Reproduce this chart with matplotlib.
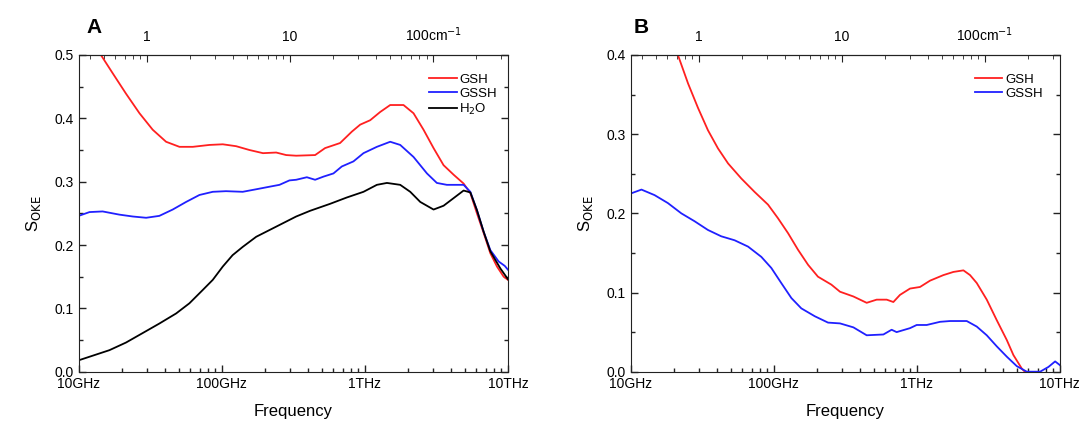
import numpy as np
import matplotlib.pyplot as plt
from matplotlib.ticker import FixedLocator, LogLocator, MultipleLocator, NullFormatter

plt.rcParams["font.family"] = ["Liberation Sans", "DejaVu Sans"]

# ── Panel A (frequency in GHz) ─────────────────────────────────────────────
a_gsh_f = [14.3, 17.3, 21.4, 26.6, 32.9, 40.8, 50.6, 62.7, 82, 101.6, 126, 156,
           194, 240, 282, 331, 449, 527, 671, 811, 927, 1089, 1279, 1503, 1862,
           2188, 2570, 3020, 3548, 4169, 4898, 5458, 6070, 6761, 7530, 8380, 9330, 10000]
a_gsh_s = [0.500, 0.471, 0.439, 0.408, 0.382, 0.363, 0.355, 0.355, 0.358, 0.359,
           0.356, 0.350, 0.345, 0.346, 0.342, 0.341, 0.342, 0.353, 0.361, 0.379,
           0.390, 0.397, 0.410, 0.421, 0.421, 0.408, 0.382, 0.353, 0.326, 0.311,
           0.297, 0.282, 0.250, 0.219, 0.187, 0.166, 0.150, 0.145]

a_gssh_f = [10, 11.9, 14.7, 19.2, 23.9, 29.6, 36.6, 45.4, 56.3, 69.8, 86.5, 107,
            140, 174, 215, 253, 297, 331, 393, 449, 514, 603, 690, 832, 978, 1213,
            1503, 1766, 2188, 2716, 3184, 3741, 4898, 5458, 6070, 6761, 7530, 8610,
            9500, 10000]
a_gssh_s = [0.246, 0.252, 0.253, 0.248, 0.245, 0.243, 0.246, 0.256, 0.268, 0.279,
            0.284, 0.285, 0.284, 0.288, 0.292, 0.295, 0.302, 0.303, 0.307, 0.303,
            0.308, 0.313, 0.324, 0.332, 0.345, 0.355, 0.363, 0.358, 0.339, 0.313,
            0.298, 0.295, 0.295, 0.284, 0.255, 0.221, 0.192, 0.174, 0.167, 0.161]

a_h2o_f = [10, 16.4, 21.4, 28, 36.6, 48, 59.4, 73.6, 86.5, 101.6, 119, 140, 174,
           240, 331, 414, 571, 747, 978, 1213, 1426, 1766, 2075, 2438, 3020, 3548,
           4169, 4898, 5458, 6070, 6761, 7530, 8850, 10000]
a_h2o_s = [0.018, 0.034, 0.046, 0.061, 0.076, 0.092, 0.108, 0.129, 0.145, 0.166,
           0.184, 0.197, 0.213, 0.229, 0.245, 0.254, 0.265, 0.275, 0.284, 0.295,
           0.298, 0.295, 0.284, 0.268, 0.256, 0.262, 0.274, 0.286, 0.283, 0.255,
           0.221, 0.190, 0.163, 0.146]

# ── Panel B ────────────────────────────────────────────────────────────────
b_gsh_f = [21.4, 25.2, 29.6, 34.7, 40.8, 48, 59.4, 73.6, 91.3, 107, 126, 148, 174,
           204, 253, 291, 361, 447, 525, 617, 687, 764, 898, 1055, 1240, 1537,
           1806, 2122, 2361, 2630, 3090, 3631, 4266, 4746, 5430, 5700]
b_gsh_s = [0.400, 0.364, 0.333, 0.305, 0.282, 0.263, 0.244, 0.227, 0.211, 0.194,
           0.175, 0.154, 0.135, 0.120, 0.110, 0.101, 0.095, 0.087, 0.091, 0.091,
           0.088, 0.097, 0.105, 0.107, 0.115, 0.122, 0.126, 0.128, 0.122, 0.112,
           0.091, 0.065, 0.040, 0.021, 0.004, 0.0]

b_gssh_f = [10, 11.9, 14.7, 18.2, 22.6, 28, 34.7, 43, 53.3, 66.2, 82, 96.3, 113,
            133, 156, 194, 240, 291, 361, 447, 585, 668, 724, 898, 1000, 1175, 1456,
            1711, 2239, 2630, 3090, 3631, 4266, 5012, 5890, 7290, 8340, 9290, 10000]
b_gssh_s = [0.225, 0.230, 0.223, 0.213, 0.200, 0.190, 0.179, 0.171, 0.166, 0.158,
            0.145, 0.131, 0.112, 0.093, 0.080, 0.070, 0.062, 0.061, 0.056, 0.046,
            0.047, 0.053, 0.050, 0.055, 0.059, 0.059, 0.063, 0.064, 0.064, 0.057,
            0.046, 0.032, 0.019, 0.007, 0.0, 0.0, 0.006, 0.013, 0.0085]

x_ticks = [10, 100, 1000, 10000]
x_labels = ["10GHz", "100GHz", "1THz", "10THz"]
top_ticks = [1, 10, 100]
top_labels = ["1", "10", "100cm$^{-1}$"]
GHZ_PER_CM = 29.9792458

RED = "#ff2020"
BLUE = "#2020ff"


def style_axes(ax, ymax, letter, letter_x, leg_x):
    ax.set_xscale("log")
    ax.set_xlim(10, 10000)
    ax.set_ylim(0, ymax)
    ax.xaxis.set_major_locator(FixedLocator(x_ticks))
    ax.set_xticklabels(x_labels)
    ax.xaxis.set_minor_locator(LogLocator(base=10, subs=np.arange(2, 10), numticks=20))
    ax.xaxis.set_minor_formatter(NullFormatter())
    ax.yaxis.set_major_locator(MultipleLocator(0.1))
    ax.yaxis.set_minor_locator(MultipleLocator(0.05))
    ax.tick_params(which="both", direction="in", labelsize=10, right=True,
                   color="#222222", width=1)
    ax.tick_params(which="major", length=5)
    ax.tick_params(which="minor", length=3)
    ax.tick_params(axis="x", pad=4)
    for sp in ax.spines.values():
        sp.set_color("#222222")
    ax.set_xlabel("Frequency", fontsize=12, labelpad=9)
    ax.set_ylabel("S$_{\\mathrm{OKE}}$", fontsize=12, labelpad=8)

    top = ax.secondary_xaxis("top", functions=(lambda f: f / GHZ_PER_CM,
                                               lambda k: k * GHZ_PER_CM))
    top.xaxis.set_major_locator(FixedLocator(top_ticks))
    top.set_xticklabels(top_labels)
    top.xaxis.set_minor_locator(LogLocator(base=10, subs=np.arange(2, 10), numticks=20))
    top.xaxis.set_minor_formatter(NullFormatter())
    top.tick_params(which="both", direction="in", labelsize=10, color="#222222")
    top.tick_params(which="major", length=5, pad=8)
    top.tick_params(which="minor", length=3)
    top.spines["top"].set_color("#222222")

    ax.text(letter_x, 1.0685, letter, transform=ax.transAxes, fontsize=15,
            fontweight="bold", ha="left", va="baseline")
    ax.legend(loc="upper right", frameon=False, fontsize=9.5, handlelength=2.1,
              handletextpad=0.2, labelspacing=0.14, borderpad=0, borderaxespad=0,
              bbox_to_anchor=(leg_x, 0.942))


fig = plt.figure(figsize=(10.81, 4.21), dpi=100)
ax_a = fig.add_axes([0.0728, 0.1171, 0.3971, 0.7523])
ax_b = fig.add_axes([0.5834, 0.1171, 0.3969, 0.7523])

ax_a.plot(a_gsh_f, a_gsh_s, color=RED, lw=1.3, label="GSH")
ax_a.plot(a_gssh_f, a_gssh_s, color=BLUE, lw=1.3, label="GSSH")
ax_a.plot(a_h2o_f, a_h2o_s, color="black", lw=1.3, label="H$_2$O")
style_axes(ax_a, 0.5, "A", 0.019, 0.974)

ax_b.plot(b_gsh_f, b_gsh_s, color=RED, lw=1.3, label="GSH")
ax_b.plot(b_gssh_f, b_gssh_s, color=BLUE, lw=1.3, label="GSSH")
style_axes(ax_b, 0.4, "B", 0.008, 0.96)

plt.savefig("out.png", dpi=100)
